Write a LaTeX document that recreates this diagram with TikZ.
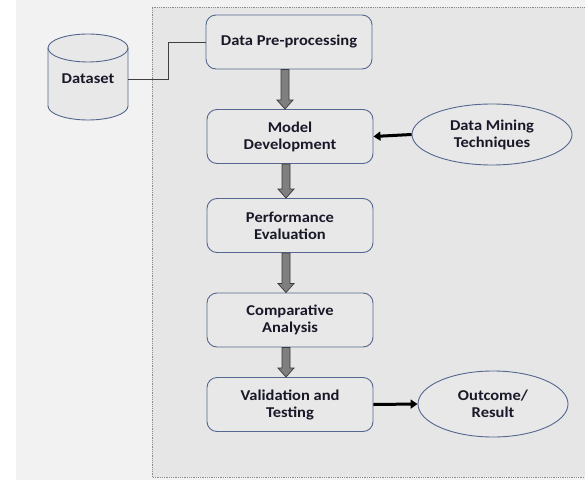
\documentclass[tikz,border=0pt]{standalone}
\usepackage{fontspec}
\setmainfont{Carlito}[FakeStretch=1.1]
\usetikzlibrary{arrows.meta,calc,shapes.geometric}
\definecolor{pagegray}{HTML}{F2F2F2}
\definecolor{framegray}{HTML}{E6E6E6}
\definecolor{boxfill}{HTML}{E8E8E8}
\definecolor{edgeblue}{HTML}{55678F}
\definecolor{inkdark}{HTML}{181828}
\definecolor{shaftgray}{HTML}{7F7F7F}
\definecolor{shaftedge}{HTML}{3A3A3A}
\tikzset{
  labelfont/.style={text=inkdark, font=\fontsize{15}{17}\selectfont\bfseries},
  stepbox/.style={draw=edgeblue, fill=boxfill, line width=0.9pt, rounded corners=10pt,
    minimum width=166pt, minimum height=54pt, align=center, labelfont},
  extnode/.style={ellipse, draw=edgeblue, fill=boxfill, line width=0.9pt, align=center,
    labelfont, inner sep=0pt},
  feed/.style={line width=3pt, -{Triangle[length=7pt,width=9pt]}, black},
  link/.style={draw=black!75, line width=0.9pt}
}
% broad grey arrow between two stacked boxes
\newcommand\fatstep[2]{%
  \path let \p1=($(#1.south)+(-4pt,0)$), \p2=($(#2.north)+(-4pt,0)$) in
    [draw=shaftedge, fill=shaftgray, line width=0.7pt]
    (\x1-4pt,\y1) -- (\x1+4pt,\y1) -- (\x1+4pt,\y2+9pt) -- (\x1+8pt,\y2+9pt)
    -- (\x1,\y2) -- (\x1-8pt,\y2+9pt) -- (\x1-4pt,\y2+9pt) -- cycle;}
\begin{document}
\begin{tikzpicture}[x=1pt,y=1pt]
\useasboundingbox (0,0) rectangle (585,480);
\fill[white] (0,0) rectangle (585,480);
\fill[pagegray] (16,0) rectangle (585,480);
\draw[black!45, fill=framegray, densely dotted, line width=0.8pt] (152,3) rectangle (600,473);

% database cylinder
\fill[boxfill] (48,432) -- (48,374) arc[start angle=180,end angle=360,x radius=40,y radius=14]
  -- (128,432) arc[start angle=0,end angle=180,x radius=40,y radius=14] -- cycle;
\draw[edgeblue, line width=0.9pt] (48,432) -- (48,374) arc[start angle=180,end angle=360,x radius=40,y radius=14]
  -- (128,432);
\draw[edgeblue, line width=0.9pt] (88,432) ellipse[x radius=40,y radius=14];
\node[minimum width=80pt, minimum height=86pt, labelfont] (dataset) at (88,401) {Dataset};

% process chain
\node[stepbox] (pre) at (289,438) {Data Pre-processing};
\node[stepbox] (model) at (290,343.5) {Model\\Development};
\node[stepbox] (perf) at (290,254.5) {Performance\\Evaluation};
\node[stepbox] (comp) at (290,160) {Comparative\\Analysis};
\node[stepbox] (valid) at (290,75.5) {Validation and\\Testing};

% external inputs and outputs
\node[extnode, minimum width=160pt, minimum height=61pt] (mining) at (492,345.5) {Data Mining\\Techniques};
\node[extnode, minimum width=150pt, minimum height=66pt] (outcome) at (493,76) {Outcome/\\Result};

% connectors
\draw[link] (dataset.east) -- (168,401) |- (pre.west);
\fatstep{pre}{model}
\fatstep{model}{perf}
\fatstep{perf}{comp}
\fatstep{comp}{valid}
\draw[feed] (mining.west) -- (model.east);
\draw[feed] (valid.east) -- (outcome.west);
\end{tikzpicture}
\end{document}
